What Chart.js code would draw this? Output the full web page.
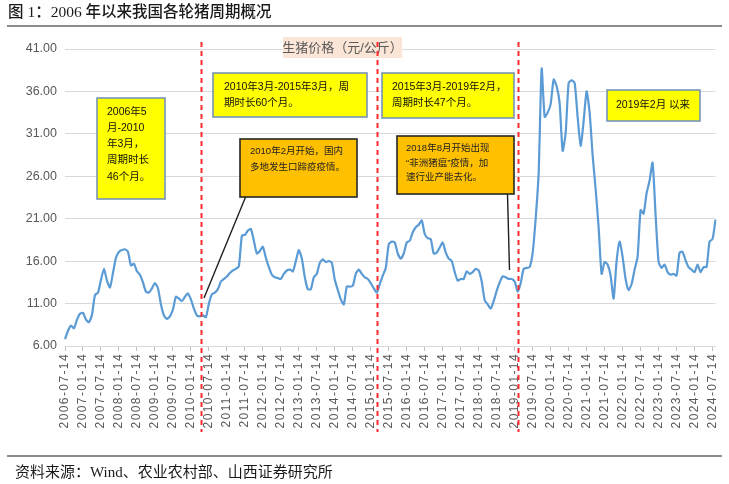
<!DOCTYPE html>
<html>
<head>
<meta charset="utf-8">
<script src="https://cdn.jsdelivr.net/npm/chart.js@4.4.1/dist/chart.umd.min.js"></script>
<style>
  html, body { margin: 0; padding: 0; background: #ffffff; }
  #wrap { position: relative; width: 729px; height: 484px; overflow: hidden; }
  #c { position: absolute; left: 0; top: 0; }
  .title { position: absolute; left: 8px; top: 2px; font-size: 15.5px; line-height: 20px; color: #1a1a1a;
           font-family: "Liberation Serif", "Noto Sans CJK SC", serif; font-weight: 500; white-space: nowrap; }
  .rule { position: absolute; left: 7px; width: 715px; height: 2px; background: #8c8c8c; }
  .source { position: absolute; left: 15px; top: 462px; font-size: 15px; line-height: 20px; color: #1a1a1a;
            font-family: "Liberation Serif", "Noto Sans CJK SC", serif; white-space: nowrap; }
</style>
</head>
<body>
<div id="wrap">
  <canvas id="c" width="729" height="484"></canvas>
  <div class="title">图 1：2006 年以来我国各轮猪周期概况</div>
  <div class="rule" style="top:25px"></div>
  <div class="rule" style="top:455px"></div>
  <div class="source">资料来源：Wind、农业农村部、山西证券研究所</div>
</div>
<script>
// ---------- data (monthly, starting 2006-07) ----------
const seriesName = '生猪价格（元/公斤）';
const startYear = 2006;
const startMonth = 7;
const hogPrice = [
  6.8, 7.8, 8.4, 8.1, 9.1, 9.8, 9.9, 9.1, 8.8, 9.7,
  12.0, 12.3, 13.8, 15.1, 13.7, 12.9, 14.6, 16.4, 17.1, 17.3,
  17.4, 17.1, 15.5, 15.7, 14.8, 14.4, 13.5, 12.4, 12.3, 12.8,
  13.4, 12.8, 10.9, 9.6, 9.2, 9.5, 10.3, 11.8, 11.6, 11.3,
  11.8, 12.2, 11.5, 10.4, 9.6, 9.5, 9.6, 9.4, 11.0, 12.1,
  12.3, 12.7, 13.6, 13.9, 14.2, 14.6, 14.9, 15.1, 15.4, 19.0,
  19.1, 19.6, 19.8, 18.4, 16.9, 17.2, 17.7, 16.4, 15.3, 14.4,
  14.1, 14.0, 13.9, 14.5, 14.9, 15.0, 14.8, 16.0, 17.3, 16.3,
  14.1, 12.7, 12.7, 14.1, 14.5, 15.8, 16.2, 15.9, 16.0, 15.8,
  13.8, 12.6, 11.5, 10.9, 13.0, 13.0, 13.1, 14.5, 15.0, 14.5,
  14.1, 13.9, 13.4, 12.8, 12.3, 13.3, 14.3, 15.2, 18.0, 18.3,
  18.2, 16.9, 16.3, 16.9, 18.2, 18.4, 19.4, 20.0, 20.3, 20.8,
  19.2, 18.7, 18.6, 16.9, 17.0, 17.6, 18.2, 17.0, 16.3, 16.0,
  14.7, 13.7, 13.9, 13.9, 14.8, 14.5, 14.7, 15.1, 14.9, 13.6,
  11.4, 10.9, 10.4, 11.3, 12.5, 13.5, 14.2, 14.1, 13.9, 13.9,
  13.6, 12.4, 13.4, 15.1, 15.2, 15.3, 17.0, 21.0, 26.4, 38.7,
  33.0, 33.5, 34.5, 37.4, 36.6, 34.6, 29.0, 31.1, 37.0, 37.3,
  37.0, 33.0, 29.6, 32.5, 36.0, 33.5, 28.5, 24.5, 20.0, 14.5,
  15.9, 15.6, 14.3, 11.6, 16.0, 18.3, 16.5, 13.9, 12.6, 13.3,
  15.0, 16.5, 22.0, 21.6, 24.0, 25.5, 27.6, 21.5, 15.9, 15.2,
  15.6, 14.7, 14.4, 14.5, 14.3, 17.0, 17.1, 16.1, 15.3, 15.0,
  14.7, 15.6, 14.7, 15.3, 15.3, 18.3, 18.6, 20.9
];
const tickLabels = [
  '2006-07-14','2007-01-14','2007-07-14','2008-01-14','2008-07-14','2009-01-14','2009-07-14',
  '2010-01-14','2010-07-14','2011-01-14','2011-07-14','2012-01-14','2012-07-14','2013-01-14',
  '2013-07-14','2014-01-14','2014-07-14','2015-01-14','2015-07-14','2016-01-14','2016-07-14',
  '2017-01-14','2017-07-14','2018-01-14','2018-07-14','2019-01-14','2019-07-14','2020-01-14',
  '2020-07-14','2021-01-14','2021-07-14','2022-01-14','2022-07-14','2023-01-14','2023-07-14',
  '2024-01-14','2024-07-14'
];
const yTicks = [6, 11, 16, 21, 26, 31, 36, 41];
// cycle boundaries (position on the month axis)
const cycleBreaks = [45.2, 104.2, 151.0];

// monthly category labels
const categories = hogPrice.map((_, i) => {
  const m0 = startMonth - 1 + i;
  const y = startYear + Math.floor(m0 / 12);
  const m = (m0 % 12) + 1;
  return y + '-' + String(m).padStart(2, '0') + '-14';
});

const CJK = '"Liberation Sans", "Noto Sans CJK SC", sans-serif';

// ---------- annotations (callouts) ----------
const yellowBoxes = [
  { x: 97, y: 98, w: 68, h: 101, lines: ['2006年5', '月-2010', '年3月，', '周期时长', '46个月。'], tx: 107, ty: 112, dy: 16.2 },
  { x: 213, y: 73, w: 154, h: 44, lines: ['2010年3月-2015年3月，周', '期时长60个月。'], tx: 224, ty: 87, dy: 15.8 },
  { x: 382, y: 73, w: 132, h: 45, lines: ['2015年3月-2019年2月，', '周期时长47个月。'], tx: 392, ty: 87, dy: 15.8 },
  { x: 607, y: 90, w: 93, h: 31, lines: ['2019年2月 以来'], tx: 616, ty: 105, dy: 0 }
];
const orangeBoxes = [
  { x: 240, y: 139, w: 117, h: 58, lines: ['2010年2月开始，国内', '多地发生口蹄疫疫情。'], tx: 250, ty: 151, dy: 16,
    link: [246, 196, 204, 298] },
  { x: 397, y: 136, w: 117, h: 58, lines: ['2018年8月开始出现', '“非洲猪瘟”疫情，加', '速行业产能去化。'], tx: 406, ty: 148.5, dy: 14.5,
    link: [507.5, 194, 509.5, 270] }
];

const calloutPlugin = {
  id: 'callouts',
  afterDatasetsDraw(chart) {
    const ctx = chart.ctx;
    const ca = chart.chartArea;
    const xs = chart.scales.x;
    ctx.save();
    // legend
    ctx.fillStyle = '#FBE5D6';
    ctx.fillRect(283, 37, 119, 21);
    ctx.fillStyle = '#595959';
    ctx.font = '13px ' + CJK;
    ctx.textBaseline = 'middle';
    ctx.textAlign = 'center';
    ctx.fillText(seriesName, 342.5, 48);
    ctx.textAlign = 'left';

    // connectors
    ctx.strokeStyle = '#1f1f1f';
    ctx.lineWidth = 1.4;
    orangeBoxes.forEach(b => {
      ctx.beginPath();
      ctx.moveTo(b.link[0], b.link[1]);
      ctx.lineTo(b.link[2], b.link[3]);
      ctx.stroke();
    });
    // yellow boxes
    yellowBoxes.forEach(b => {
      ctx.fillStyle = '#FFFF00';
      ctx.fillRect(b.x, b.y, b.w, b.h);
      ctx.strokeStyle = '#6F8FB8';
      ctx.lineWidth = 1.5;
      ctx.strokeRect(b.x, b.y, b.w, b.h);
      ctx.fillStyle = '#111111';
      ctx.font = '10.5px ' + CJK;
      b.lines.forEach((t, k) => ctx.fillText(t, b.tx, b.ty + k * b.dy));
    });
    // orange boxes
    orangeBoxes.forEach(b => {
      ctx.fillStyle = '#FFC000';
      ctx.fillRect(b.x, b.y, b.w, b.h);
      ctx.strokeStyle = '#262626';
      ctx.lineWidth = 1.6;
      ctx.strokeRect(b.x, b.y, b.w, b.h);
      ctx.fillStyle = '#222222';
      ctx.font = '9.5px ' + CJK;
      b.lines.forEach((t, k) => ctx.fillText(t, b.tx, b.ty + k * b.dy));
    });
    // red dashed cycle lines
    ctx.strokeStyle = '#FF2A2A';
    ctx.lineWidth = 2;
    ctx.setLineDash([5, 4]);
    cycleBreaks.forEach(v => {
      const px = Math.round(xs.getPixelForValue(v)) + 0.5;
      ctx.beginPath();
      ctx.moveTo(px, ca.top - 7);
      ctx.lineTo(px, ca.bottom + 86);
      ctx.stroke();
    });
    ctx.restore();
  }
};

// letter spacing for the rotated date labels only
const spacingPlugin = {
  id: 'xLabelSpacing',
  beforeDraw(chart) {
    const s = chart.scales.x;
    if (s && !s.__patched) {
      const orig = s.drawLabels.bind(s);
      s.drawLabels = function (area) {
        const c = this.ctx;
        c.save();
        c.letterSpacing = '1.4px';
        orig(area);
        c.restore();
      };
      s.__patched = true;
    }
  }
};

new Chart(document.getElementById('c'), {
  type: 'line',
  data: {
    labels: categories,
    datasets: [{
      label: seriesName,
      data: hogPrice,
      borderColor: '#5B9BD5',
      borderWidth: 2.2,
      pointRadius: 0,
      tension: 0.2,
      fill: false
    }]
  },
  options: {
    responsive: false,
    animation: false,
    layout: { padding: { left: 0, right: 13, top: 49, bottom: 0 } },
    plugins: { legend: { display: false }, tooltip: { enabled: false } },
    scales: {
      x: {
        type: 'category',
        offset: false,
        afterFit: s => { s.height = 138; },
        grid: { display: true, drawOnChartArea: false, drawTicks: true, tickLength: 5, color: '#BFBFBF' },
        border: { display: true, color: '#D9D9D9' },
        ticks: {
          autoSkip: false, maxRotation: 90, minRotation: 90, padding: 2,
          color: '#595959', font: { family: '"Liberation Sans", Arial, sans-serif', size: 12 },
          callback: function (v, i) {
            const lab = this.getLabelForValue(v);
            return tickLabels.includes(lab) ? lab : null;
          }
        }
      },
      y: {
        min: yTicks[0], max: yTicks[yTicks.length - 1],
        afterFit: s => { s.width = 65; },
        afterBuildTicks: s => { s.ticks = yTicks.map(v => ({ value: v })); },
        grid: { color: '#D9D9D9', drawTicks: false },
        border: { display: false },
        ticks: {
          padding: 8, color: '#595959',
          font: { family: '"Liberation Sans", Arial, sans-serif', size: 12.5 },
          callback: v => Number(v).toFixed(2)
        }
      }
    }
  },
  plugins: [spacingPlugin, calloutPlugin]
});
</script>
</body>
</html>
